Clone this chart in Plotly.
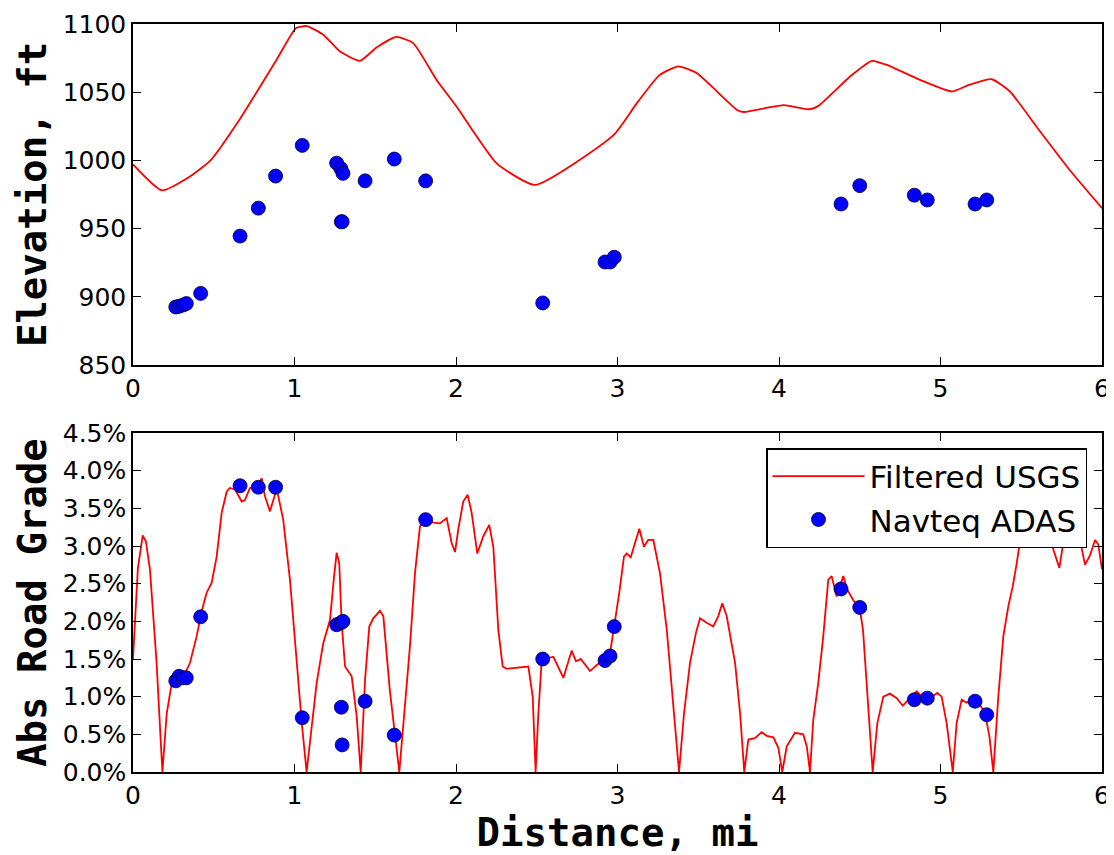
import plotly.graph_objects as go
from plotly.subplots import make_subplots

# Filtered USGS elevation profile (ft) vs distance (mi)
elev_dist = [0, 0.178, 0.35, 0.48, 0.66, 0.89, 1.01, 1.075, 1.18, 1.28, 1.405, 1.51, 1.63, 1.735,
             1.88, 2.0, 2.25, 2.49, 2.975, 3.12, 3.26, 3.377, 3.49, 3.74, 3.78, 3.944, 4.03, 4.19,
             4.25, 4.44, 4.575, 4.667, 4.873, 5.07, 5.18, 5.317, 5.43, 5.596, 5.80, 6.0]
elev_ft = [997, 978, 988, 1000, 1030, 1074, 1097, 1098.5, 1092, 1080, 1073, 1083, 1090.5, 1086,
           1059, 1040, 998, 982, 1018.5, 1042, 1062.5, 1069, 1064, 1037, 1035.5, 1039, 1040.5, 1037.5,
           1040.5, 1061.5, 1073, 1070, 1059, 1050.5, 1055.5, 1059.5, 1050.5, 1024.5, 993, 965]

# Filtered USGS absolute road grade (%)
grade_dist = [0, 0.03, 0.06, 0.08, 0.105, 0.146, 0.182, 0.209, 0.24, 0.28, 0.32, 0.353, 0.394, 0.425,
              0.456, 0.487, 0.518, 0.549, 0.58, 0.60, 0.632, 0.673, 0.693, 0.724, 0.766, 0.797, 0.817,
              0.848, 0.89, 0.93, 0.972, 1.013, 1.045, 1.075, 1.107, 1.137, 1.178, 1.22, 1.245, 1.261,
              1.277, 1.292, 1.313, 1.354, 1.385, 1.41, 1.437, 1.463, 1.488, 1.529, 1.55, 1.59, 1.649,
              1.674, 1.715, 1.746, 1.777, 1.808, 1.86, 1.90, 1.942, 1.973, 1.994, 2.014, 2.045, 2.072,
              2.097, 2.132, 2.169, 2.206, 2.231, 2.262, 2.289, 2.314, 2.427, 2.448, 2.475, 2.493, 2.51,
              2.531, 2.603, 2.665, 2.716, 2.743, 2.772, 2.83, 2.871, 2.923, 2.954, 2.98, 3.011, 3.04,
              3.057, 3.082, 3.108, 3.135, 3.164, 3.19, 3.222, 3.263, 3.305, 3.346, 3.381, 3.412, 3.449,
              3.486, 3.511, 3.552, 3.593, 3.624, 3.649, 3.676, 3.728, 3.759, 3.785, 3.81, 3.851, 3.893,
              3.924, 3.965, 3.996, 4.02, 4.048, 4.099, 4.15, 4.172, 4.192, 4.212, 4.243, 4.274, 4.305,
              4.326, 4.357, 4.398, 4.423, 4.46, 4.50, 4.52, 4.553, 4.58, 4.609, 4.646, 4.687, 4.729,
              4.766, 4.80, 4.853, 4.884, 4.935, 4.98, 5.007, 5.038, 5.076, 5.10, 5.131, 5.162, 5.193,
              5.245, 5.276, 5.303, 5.327, 5.358, 5.389, 5.42, 5.447, 5.472, 5.493, 5.53, 5.6, 5.67,
              5.699, 5.736, 5.76, 5.80, 5.84, 5.864, 5.895, 5.926, 5.957, 5.977, 6.0]
grade_pct = [1.50, 2.7, 3.14, 3.06, 2.69, 1.45, 0.0, 0.78, 1.18, 1.25, 1.30, 1.45, 1.80, 2.13,
             2.38, 2.51, 2.86, 3.44, 3.72, 3.77, 3.75, 3.59, 3.61, 3.77, 3.79, 3.90, 3.66,
             3.46, 3.76, 3.35, 2.55, 1.45, 0.65, 0.0, 0.65, 1.18, 1.71, 2.02, 2.60, 2.91,
             2.77, 1.98, 1.40, 1.27, 0.74, 0.0, 1.23, 1.93, 2.04, 2.14, 2.07, 1.09, 0.0,
             0.65, 1.67, 2.64, 3.26, 3.36, 3.31, 3.30, 3.37, 3.04, 2.92, 3.22, 3.59, 3.68,
             3.44, 2.90, 3.13, 3.28, 2.99, 1.89, 1.40, 1.37, 1.39, 1.40, 1.00, 0.0, 0.78,
             1.49, 1.53, 1.25, 1.61, 1.47, 1.50, 1.34, 1.42, 1.49, 1.58, 1.93, 2.38, 2.86,
             2.90, 2.85, 3.04, 3.23, 2.99, 3.08, 3.08, 2.64, 1.89, 0.92, 0.0, 0.78, 1.45,
             1.85, 2.04, 1.98, 1.93, 2.07, 2.24, 2.07, 1.45, 0.78, 0.0, 0.43, 0.45, 0.53,
             0.48, 0.46, 0.32, 0.0, 0.34, 0.52, 0.50, 0.34, 0.0, 0.69, 1.18, 1.80, 2.55,
             2.60, 2.33, 2.60, 2.42, 2.28, 2.17, 1.89, 0.87, 0.0, 0.65, 1.00, 1.04, 0.98,
             0.88, 0.96, 1.07, 1.00, 0.98, 1.05, 1.00, 0.65, 0.0, 0.65, 0.96, 0.92, 0.96,
             0.89, 0.78, 0.47, 0.0, 1.00, 1.80, 2.20, 2.46, 2.77, 3.08, 3.3, 3.35, 3.2,
             2.95, 2.71, 3.04, 3.3, 3.25, 3.08, 2.75, 2.88, 3.08, 3.02, 2.69]

# Navteq ADAS points
nav_dist = [0.265, 0.285, 0.31, 0.33, 0.419, 0.663, 0.776, 0.883, 1.048, 1.261, 1.287, 1.30, 1.29,
            1.295, 1.437, 1.618, 1.812, 2.537, 2.923, 2.954, 2.98, 4.384, 4.50, 4.838, 4.918,
            5.214, 5.286]
nav_elev = [892.5, 893, 894, 895, 902.5, 944.5, 965, 988.5, 1011, 998, 994, 990.5, 955, 955, 985,
            1001, 985, 895.5, 925.5, 925.5, 929, 968, 981.5, 974.5, 971, 968, 971]
nav_grade = [1.21, 1.27, 1.25, 1.25, 2.06, 3.80, 3.78, 3.78, 0.72, 1.955, 1.98, 2.0, 0.86, 0.36,
             0.94, 0.49, 3.35, 1.50, 1.48, 1.54, 1.93, 2.43, 2.185, 0.96, 0.98, 0.94, 0.76]

x_ticks = [0, 1, 2, 3, 4, 5, 6]
elev_ticks = [850, 900, 950, 1000, 1050, 1100]
grade_ticks = [0.0, 0.5, 1.0, 1.5, 2.0, 2.5, 3.0, 3.5, 4.0, 4.5]
grade_tick_text = [f"{v:.1f}%" for v in grade_ticks]

# page body adds an 8px offset; figure fills the rest of the 1114x855 window
OFF = 8
W, H = 1114 - OFF, 855 - OFF
ML, MR, MT, MB = 133 - OFF, 12, 24 - OFF, 83
plot_w = W - ML - MR
plot_h = H - MT - MB

fig = make_subplots(rows=2, cols=1)

line_style = dict(color="#ff0000", width=1.8)
marker_style = dict(color="#0000ff", size=14, line=dict(color="#000033", width=0.8))

fig.add_trace(go.Scatter(x=elev_dist, y=elev_ft, mode="lines", line=dict(shape="spline", smoothing=0.5, **line_style),
                         showlegend=False), row=1, col=1)
fig.add_trace(go.Scatter(x=nav_dist, y=nav_elev, mode="markers", marker=marker_style,
                         showlegend=False), row=1, col=1)
fig.add_trace(go.Scatter(x=grade_dist, y=grade_pct, mode="lines", line=line_style,
                         name="Filtered USGS"), row=2, col=1)
fig.add_trace(go.Scatter(x=nav_dist, y=nav_grade, mode="markers", marker=marker_style,
                         name="Navteq ADAS"), row=2, col=1)

tick_font = dict(family="DejaVu Sans", size=25, color="black")
title_font = dict(family="DejaVu Sans Mono", size=39, color="black", weight="bold")

axis_common = dict(showline=True, linecolor="black", linewidth=1.5, mirror="allticks",
                   ticks="inside", ticklen=8, tickwidth=1, tickcolor="black", automargin=False,
                   showgrid=False, zeroline=False, tickfont=tick_font)

# subplot boundaries in window pixels: top plot 24-365, bottom plot 433-772
top_bottom = (772 - 365) / plot_h
bot_top = (772 - 433) / plot_h

fig.update_xaxes(range=[0, 6], tickvals=x_ticks, domain=[0, 1], **axis_common)
fig.update_xaxes(title=dict(text="Distance, mi", font=title_font, standoff=2), row=2, col=1)
fig.update_yaxes(range=[850, 1100], tickvals=elev_ticks, domain=[top_bottom, 1],
                 title=dict(text="Elevation, ft", font=title_font, standoff=4), row=1, col=1, **axis_common)
fig.update_yaxes(range=[0, 4.5], tickvals=grade_ticks, ticktext=grade_tick_text,
                 domain=[0, bot_top],
                 title=dict(text="Abs Road Grade", font=title_font, standoff=4), row=2, col=1, **axis_common)

fig.update_layout(
    width=W, height=H,
    margin=dict(l=ML, r=MR, t=MT, b=MB, autoexpand=False),
    paper_bgcolor="white", plot_bgcolor="white",
    legend=dict(x=(1087 - 133) / plot_w, y=(772 - 448) / plot_h, xanchor="right", yanchor="top",
                bgcolor="white", bordercolor="black", borderwidth=1.5, itemwidth=92,
                font=dict(family="DejaVu Sans", size=31, color="black")),
)

fig.write_html("out.html")
